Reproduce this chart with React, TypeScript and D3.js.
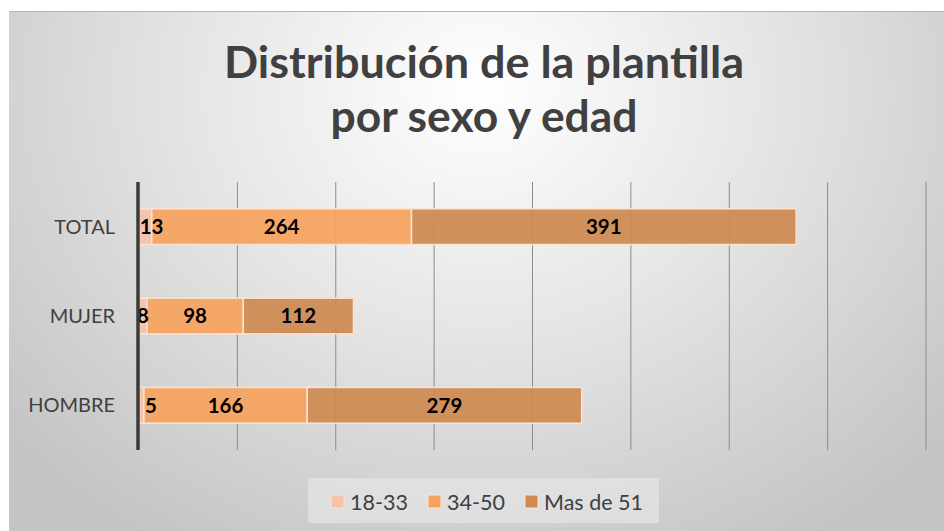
import React from "react";
import * as d3 from "d3";

const categories = ["TOTAL", "MUJER", "HOMBRE"];
const seriesNames = ["18-33", "34-50", "Mas de 51"];
const s1833 = [13, 8, 5];
const s3450 = [264, 98, 166];
const s51 = [391, 112, 279];
const xTicks = [0, 100, 200, 300, 400, 500, 600, 700, 800];
const titleLines = ["Distribución de la plantilla", "por sexo y edad"];

const colors = ["#F4C3AB", "#F5A35E", "#CF8A52"];
const W = 944;
const H = 531;
const FONT = "Lato, 'Open Sans', sans-serif";

export default function App() {
  const x0 = 139;
  const x1 = 926;
  const y0 = 182;
  const y1 = 450;
  const x = d3.scaleLinear().domain([0, 800]).range([x0, x1]);
  const y = d3.scaleBand().domain(categories).range([y0, y1]).paddingInner(0.6).paddingOuter(0.3);

  const rows = categories.map((c, i) => ({ cat: c, a: s1833[i], b: s3450[i], c: s51[i] }));
  const stack = d3.stack<any>().keys(["a", "b", "c"])(rows);

  const labelW = (t: string) => t.length * 10.6;
  const titleWidths = [520, 307];

  return (
    <svg width={W} height={H} style={{ position: "absolute", left: 0, top: 0 }}>
      <defs>
        <radialGradient id="bg" cx="480" cy="90" r="620" gradientUnits="userSpaceOnUse" gradientTransform="translate(480 90) scale(1 0.85) translate(-480 -90)">
          <stop offset="0" stopColor="#ffffff" />
          <stop offset="0.45" stopColor="#e6e6e6" />
          <stop offset="1" stopColor="#c4c4c4" />
        </radialGradient>
      </defs>
      <rect x={0} y={0} width={W} height={H} fill="#ffffff" />
      <rect x={9} y={11} width={W - 9} height={H - 11} fill="url(#bg)" />
      <line x1={9} x2={W} y1={11.5} y2={11.5} stroke="#b8b8b8" strokeWidth={1} />

      {titleLines.map((t, i) => (
        <text
          key={t}
          x={484}
          y={78 + i * 54}
          textAnchor="middle"
          fontFamily={FONT}
          fontWeight={700}
          fontSize={43}
          fill="#404040"
          textLength={titleWidths[i]}
          lengthAdjust="spacingAndGlyphs"
        >
          {t}
        </text>
      ))}

      {xTicks.slice(1).map((t) => (
        <line key={t} x1={x(t)} x2={x(t)} y1={y0} y2={y1} stroke="#8c8c8c" strokeWidth={1} />
      ))}

      {stack.map((layer, si) => (
        <g key={si}>
          {layer.map((d: any, i: number) => (
            <rect
              key={i}
              x={x(d[0])}
              y={y(categories[i])!}
              width={x(d[1]) - x(d[0])}
              height={y.bandwidth()}
              fill={colors[si]}
              fillOpacity={0.93}
              stroke="#fbe3d3"
              strokeWidth={1.5}
            />
          ))}
        </g>
      ))}

      {stack.map((layer, si) =>
        layer.map((d: any, i: number) => {
          const v = d[1] - d[0];
          const t = String(v);
          let cx = (x(d[0]) + x(d[1])) / 2;
          const w = labelW(t);
          if (si === 0 && cx - w / 2 < x0 + 2 && t.length > 1) cx = x0 + 2 + w / 2;
          if (si === 0 && t.length === 1 && i === 2) cx = x0 + 12;
          return (
            <text key={`${si}-${i}`} x={cx} y={y(categories[i])! + y.bandwidth() / 2} dy="0.36em" textAnchor="middle" fontFamily={FONT} fontWeight={700} fontSize={20.5} fill="#000">
              {t}
            </text>
          );
        })
      )}

      <line x1={x0 - 1} x2={x0 - 1} y1={y0} y2={y1} stroke="#3a3a3a" strokeWidth={3.5} />

      {categories.map((c) => (
        <text key={c} x={115} y={y(c)! + y.bandwidth() / 2} dy="0.35em" textAnchor="end" fontFamily={FONT} fontSize={20} fill="#404040">
          {c}
        </text>
      ))}

      <rect x={308} y={478} width={351} height={45} fill="#e6e6e6" fillOpacity={0.7} />
      {seriesNames.map((s, i) => {
        const lx = [331, 428, 525][i];
        return (
          <g key={s}>
            <rect x={lx} y={495} width={13} height={13} fill={colors[i]} stroke="#fbe3d3" strokeWidth={1} />
            <text x={lx + 19} y={502} dy="0.35em" fontFamily={FONT} fontSize={21.5} fill="#404040">
              {s}
            </text>
          </g>
        );
      })}
    </svg>
  );
}
